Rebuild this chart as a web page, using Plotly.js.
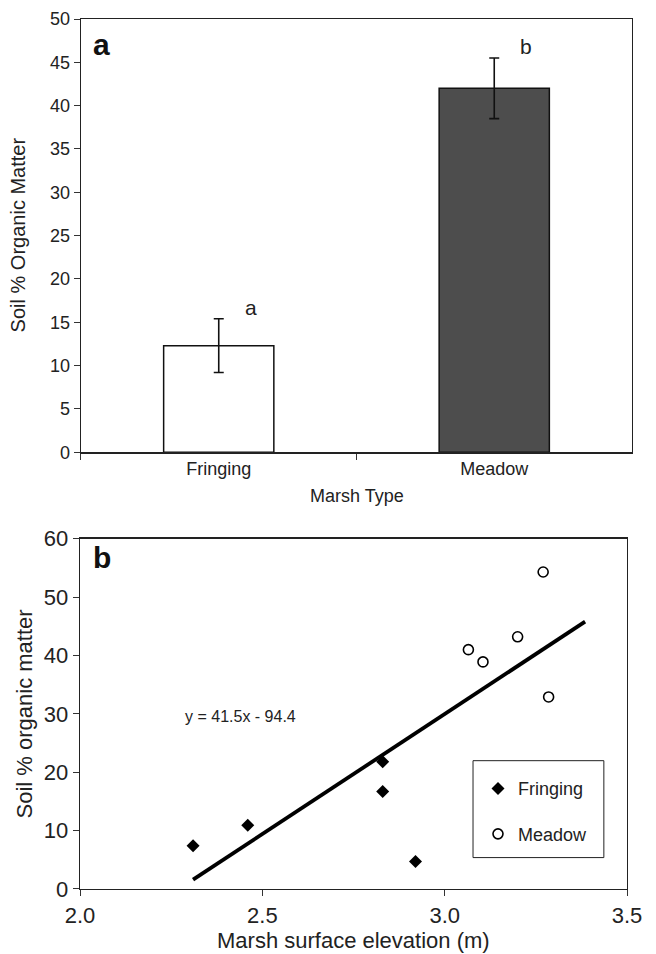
<!DOCTYPE html>
<html>
<head>
<meta charset="utf-8">
<script src="https://cdn.plot.ly/plotly-3.0.1.min.js"></script>
<style>html,body{margin:0;padding:0;background:#fff;}#chart{width:656px;height:954px;}</style>
</head>
<body>
<div id="chart"></div>
<script>
// Panel a: bar chart
var marshTypes = ['Fringing', 'Meadow'];
var organicMatterMean = [12.3, 42.0];
var organicMatterErr = [3.1, 3.5];
var sigLetters = ['a', 'b'];
var sigLetterY = [16.7, 46.8];

// Panel b: scatter
var fringingElev = [2.31, 2.46, 2.83, 2.83, 2.92];
var fringingOM = [7.4, 10.9, 16.7, 21.8, 4.7];
var meadowElev = [3.065, 3.105, 3.20, 3.27, 3.285];
var meadowOM = [41.0, 38.9, 43.2, 54.3, 32.9];
var fitElev = [2.31, 3.385];
var fitOM = [1.6, 45.8];
var equationText = 'y = 41.5x - 94.4';
var equationPos = [2.44, 29.5];

var FONT = 'Liberation Sans, Arial, Helvetica, sans-serif';
var TXT = '#222';

var traces = [
  {
    type: 'bar', x: marshTypes, y: organicMatterMean, xaxis: 'x', yaxis: 'y',
    width: 0.4, showlegend: false,
    marker: {color: ['#ffffff', '#4d4d4d'], line: {color: '#111', width: 1.5}},
    error_y: {type: 'data', array: organicMatterErr, visible: true, color: '#111', thickness: 1.6, width: 5}
  },
  {
    type: 'scatter', mode: 'lines', x: fitElev, y: fitOM, xaxis: 'x2', yaxis: 'y2',
    line: {color: '#000', width: 3.8}, showlegend: false
  },
  {
    type: 'scatter', mode: 'markers', name: 'Fringing', x: fringingElev, y: fringingOM,
    xaxis: 'x2', yaxis: 'y2', legendgroup: 'g1',
    marker: {symbol: 'diamond', size: 10, color: '#000'}
  },
  {
    type: 'scatter', mode: 'markers', name: 'Meadow', x: meadowElev, y: meadowOM,
    xaxis: 'x2', yaxis: 'y2', legendgroup: 'g2',
    marker: {symbol: 'circle-open', size: 10, color: '#000', line: {color: '#000', width: 1.6}}
  }
];

var annotations = [
  {xref: 'x domain', yref: 'y domain', x: 0.019, y: 0.94, xanchor: 'left', yanchor: 'middle',
   text: '<b>a</b>', showarrow: false, font: {family: FONT, size: 30, color: '#111'}},
  {xref: 'x2 domain', yref: 'y2 domain', x: 0.02, y: 0.946, xanchor: 'left', yanchor: 'middle',
   text: '<b>b</b>', showarrow: false, font: {family: FONT, size: 30, color: '#111'}},
  {xref: 'x2', yref: 'y2', x: equationPos[0], y: equationPos[1], xanchor: 'center', yanchor: 'middle',
   text: equationText, showarrow: false, font: {family: FONT, size: 16, color: TXT}},
  {xref: 'paper', yref: 'paper', x: -0.113, y: 0.752, xanchor: 'center', yanchor: 'middle',
   textangle: -90, showarrow: false,
   text: 'Soil % Organic Matter', font: {family: FONT, size: 20, color: TXT}},
  {xref: 'paper', yref: 'paper', x: 0.501, y: 0.452, xanchor: 'center', yanchor: 'middle', showarrow: false,
   text: 'Marsh Type', font: {family: FONT, size: 18, color: TXT}},
  {xref: 'paper', yref: 'paper', x: -0.1, y: 0.2015, xanchor: 'center', yanchor: 'middle',
   textangle: -90, showarrow: false,
   text: 'Soil % organic matter', font: {family: FONT, size: 22, color: TXT}},
  {xref: 'paper', yref: 'paper', x: 0.4955, y: -0.0595, xanchor: 'center', yanchor: 'middle', showarrow: false,
   text: 'Marsh surface elevation (m)', font: {family: FONT, size: 22, color: TXT}}
];
for (var i = 0; i < marshTypes.length; i++) {
  annotations.push({xref: 'x', yref: 'y', x: marshTypes[i], y: sigLetterY[i], xshift: 32,
    xanchor: 'center', yanchor: 'middle',
    text: sigLetters[i], showarrow: false, font: {family: FONT, size: 21, color: TXT}});
}

var axisCommon = {
  showline: true, mirror: true, linecolor: '#222', linewidth: 1.3,
  ticks: 'outside', ticklen: 6, tickwidth: 1, tickcolor: '#333',
  showgrid: false, zeroline: false, fixedrange: true
};

var layout = {
  width: 656, height: 954,
  margin: {l: 80, r: 24, t: 19, b: 64.6},
  paper_bgcolor: '#fff', plot_bgcolor: '#fff',
  font: {family: FONT, color: TXT},
  xaxis: Object.assign({}, axisCommon, {
    type: 'category', domain: [0.0018, 1], range: [-0.5, 1.5], anchor: 'y',
    tickson: 'boundaries', tickfont: {size: 18, color: TXT}
  }),
  yaxis: Object.assign({}, axisCommon, {
    domain: [0.502, 1], range: [0, 50], dtick: 5, anchor: 'x',
    tickfont: {size: 18, color: TXT}
  }),
  xaxis2: Object.assign({}, axisCommon, {
    domain: [0, 0.991], range: [2, 3.5], dtick: 0.5, tick0: 2, tickformat: '.1f', anchor: 'y2',
    tickfont: {size: 22, color: TXT}
  }),
  yaxis2: Object.assign({}, axisCommon, {
    domain: [0, 0.4026], range: [0, 60], dtick: 10, anchor: 'x2',
    tickfont: {size: 22, color: TXT}
  }),
  showlegend: true,
  legend: {
    x: 0.721, y: 0.1365, xref: 'paper', yref: 'paper', xanchor: 'left', yanchor: 'top',
    borderwidth: 0, bgcolor: 'rgba(0,0,0,0)',
    font: {family: FONT, size: 18, color: TXT},
    traceorder: 'grouped', tracegroupgap: 19, itemwidth: 30
  },
  shapes: [
    {type: 'rect', xref: 'paper', yref: 'paper', x0: 0.712, x1: 0.949, y0: 0.0361, y1: 0.1475,
     line: {color: '#222', width: 1}, fillcolor: 'rgba(0,0,0,0)', layer: 'below'}
  ],
  annotations: annotations
};

Plotly.newPlot('chart', traces, layout, {displayModeBar: false, staticPlot: true});
</script>
</body>
</html>
